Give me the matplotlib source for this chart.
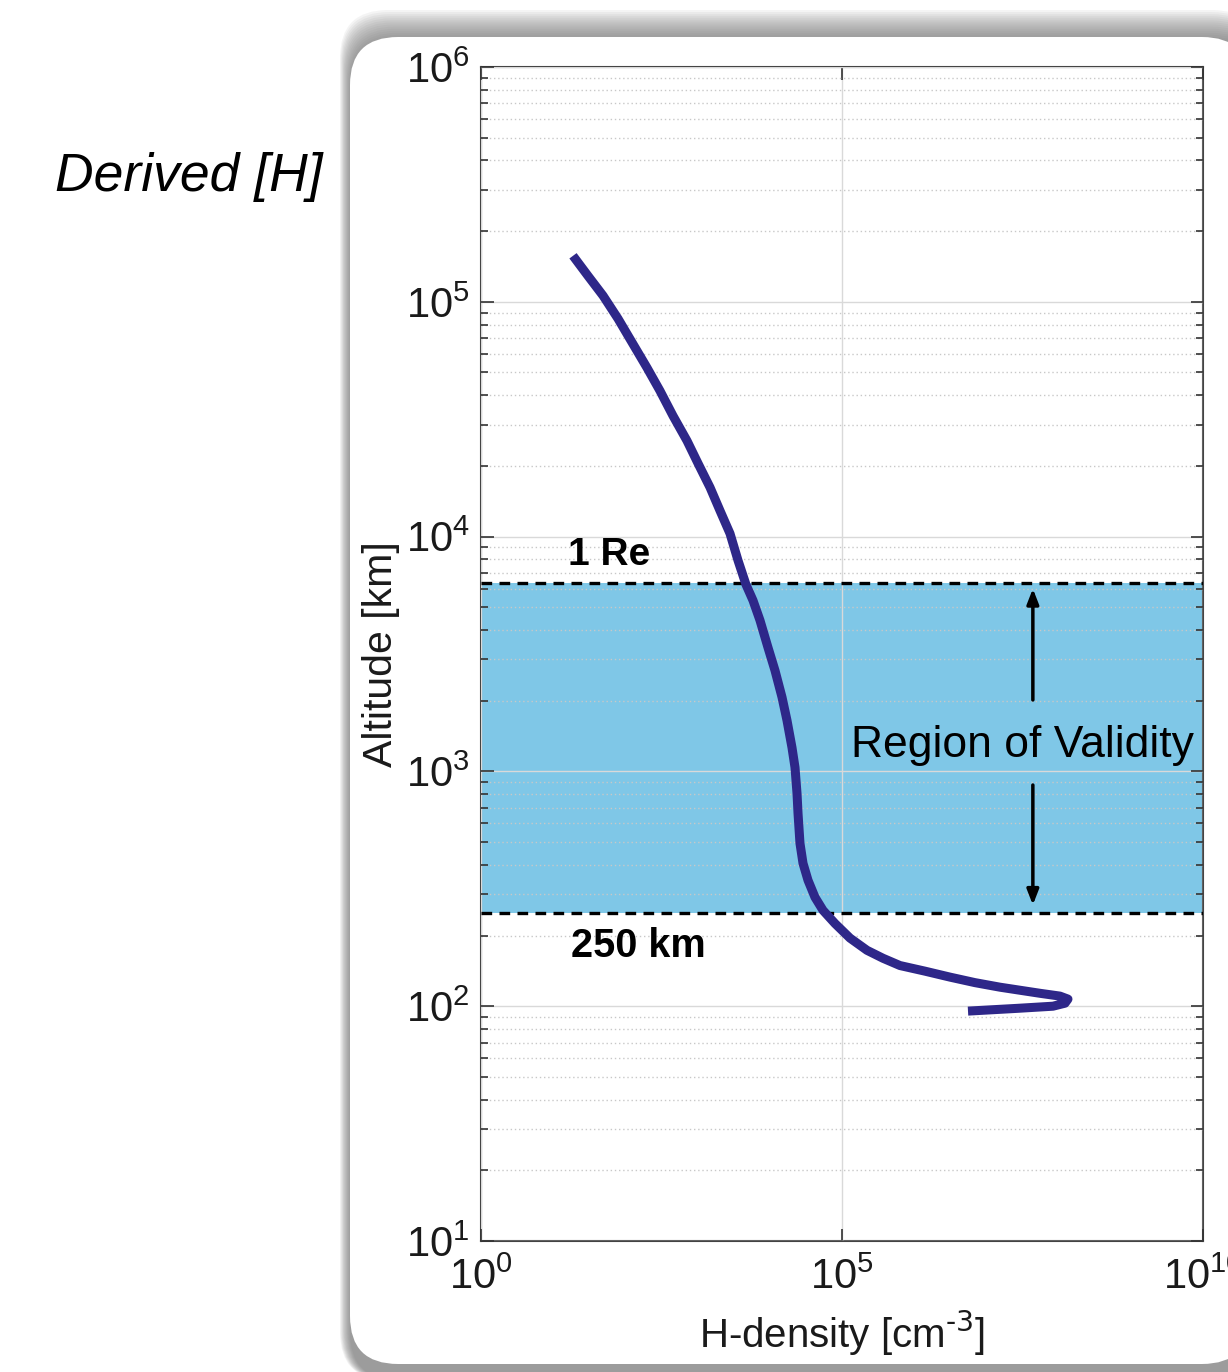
import numpy as np
import matplotlib
matplotlib.use("Agg")
import matplotlib.pyplot as plt
from matplotlib.patches import FancyBboxPatch
from matplotlib.ticker import LogLocator, NullLocator, FixedLocator

plt.rcParams['font.family'] = ['Liberation Sans', 'DejaVu Sans']

# H-density profile (cm^-3) vs altitude (km)
density = [18.8, 30.3, 49.0, 79.1, 127, 199, 301, 456, 713, 1014,
           1486, 2042, 2812, 3631, 4677, 5848, 7311, 9441, 11803, 14757,
           17298, 20277, 22336, 23823, 24604, 26182, 28840, 33806, 42267, 54576,
           79983, 1.29e5, 2.22e5, 3.70e5, 6.35e5, 1.41e6, 3.13e6, 6.95e6, 1.54e7, 5.52e7,
           1.045e8, 1.349e8, 1.227e8, 8.36e7, 2.655e7, 5.56e6]
altitude = [157000, 129000, 106200, 84700, 66200, 52400, 41800, 32700, 25600, 20500,
            16200, 12900, 10300, 7910, 6250, 5350, 4400, 3370, 2690, 2070,
            1650, 1265, 1040, 805, 662, 494, 406, 344, 291, 256,
            225, 195, 173, 160, 149, 141, 133, 126, 120.5, 113.5,
            110.4, 107.2, 103.0, 100.0, 97.9, 95.3]

valid_low = 250      # km
valid_high = 6371    # 1 Earth radius, km

fig = plt.figure(figsize=(12.28, 13.72), dpi=100)

# rounded white panel with a soft grey edge
bg = fig.add_axes([0, 0, 1, 1], zorder=0)
bg.set_xlim(0, 1228)
bg.set_ylim(1372, 0)
bg.axis('off')
n = 14
for i in range(n):
    f = i / (n - 1)
    x0 = 340 + 10 * f
    y0 = 10 + 27 * f
    sh = FancyBboxPatch((x0, y0), 1260 - x0, 1380 - y0,
                        boxstyle="round,pad=0,rounding_size=48",
                        fc='#707070', ec='none', alpha=0.075)
    bg.add_patch(sh)
panel = FancyBboxPatch((350, 37), 900, 1327,
                       boxstyle="round,pad=0,rounding_size=48",
                       fc='white', ec='none')
bg.add_patch(panel)
bg.text(55, 177, 'Derived [H]', fontsize=38.5, style='italic',
        ha='left', va='center')

ax = fig.add_axes([481 / 1228, 1 - 1241 / 1372, 722 / 1228, 1174 / 1372], zorder=1)
ax.set_xscale('log')
ax.set_yscale('log')
ax.set_xlim(1, 1e10)
ax.set_ylim(10, 1e6)

ax.axhspan(valid_low, valid_high, color='#7FC7E7', zorder=1, lw=0)
ax.axhline(valid_high, color='black', ls=(0, (3.2, 2.2)), lw=2.4, zorder=3)
ax.axhline(valid_low, color='black', ls=(0, (3.2, 2.2)), lw=2.4, zorder=3)

ax.plot(density, altitude, color='#2E2789', lw=6.5, zorder=4,
        solid_capstyle='butt', solid_joinstyle='round')

ax.xaxis.set_major_locator(FixedLocator([1, 1e5, 1e10]))
ax.xaxis.set_minor_locator(NullLocator())
ax.yaxis.set_major_locator(LogLocator(base=10, numticks=10))
ax.yaxis.set_minor_locator(LogLocator(base=10, subs=np.arange(2, 10), numticks=10))

ax.grid(True, which='major', color='#d9d9d9', lw=1, zorder=2)
ax.grid(True, which='minor', axis='y', color='#c8c8c8', lw=1, ls=(0, (1, 2)), zorder=2)
ax.set_axisbelow(False)
for gl in ax.get_xgridlines() + ax.get_ygridlines():
    gl.set_zorder(2)

ax.tick_params(which='both', direction='in', top=True, right=True,
               colors='#333333', labelcolor='#1a1a1a', width=1.2)
ax.tick_params(which='major', length=9, labelsize=30)
ax.tick_params(which='minor', length=5)
ax.tick_params(axis='x', pad=12)
ax.tick_params(axis='y', pad=8)
for s in ax.spines.values():
    s.set_color('#444444')
    s.set_linewidth(1.5)

ax.set_xlabel(r'H-density [cm$^{\text{-3}}$]', fontsize=29, color='#1a1a1a', labelpad=8)
ax.set_ylabel('Altitude [km]', fontsize=29.5, color='#1a1a1a', labelpad=4)

ax.text(16, 7600, '1 Re', fontsize=28, fontweight='bold', ha='left', va='baseline', zorder=5)
ax.text(17.6, 180, '250 km', fontsize=28.5, fontweight='bold', ha='left', va='center', zorder=5)
ax.text(3.2e7, 1295, 'Region of Validity', fontsize=32, ha='center', va='center', zorder=5)

arrow = dict(arrowstyle='-|>,head_length=0.9,head_width=0.35', color='black', lw=2.5,
             shrinkA=0, shrinkB=0)
ax.annotate('', xy=(4.4e7, 6000), xytext=(4.4e7, 2015), arrowprops=arrow, zorder=5)
ax.annotate('', xy=(4.4e7, 270), xytext=(4.4e7, 875), arrowprops=arrow, zorder=5)

fig.savefig('out.png', dpi=100)
